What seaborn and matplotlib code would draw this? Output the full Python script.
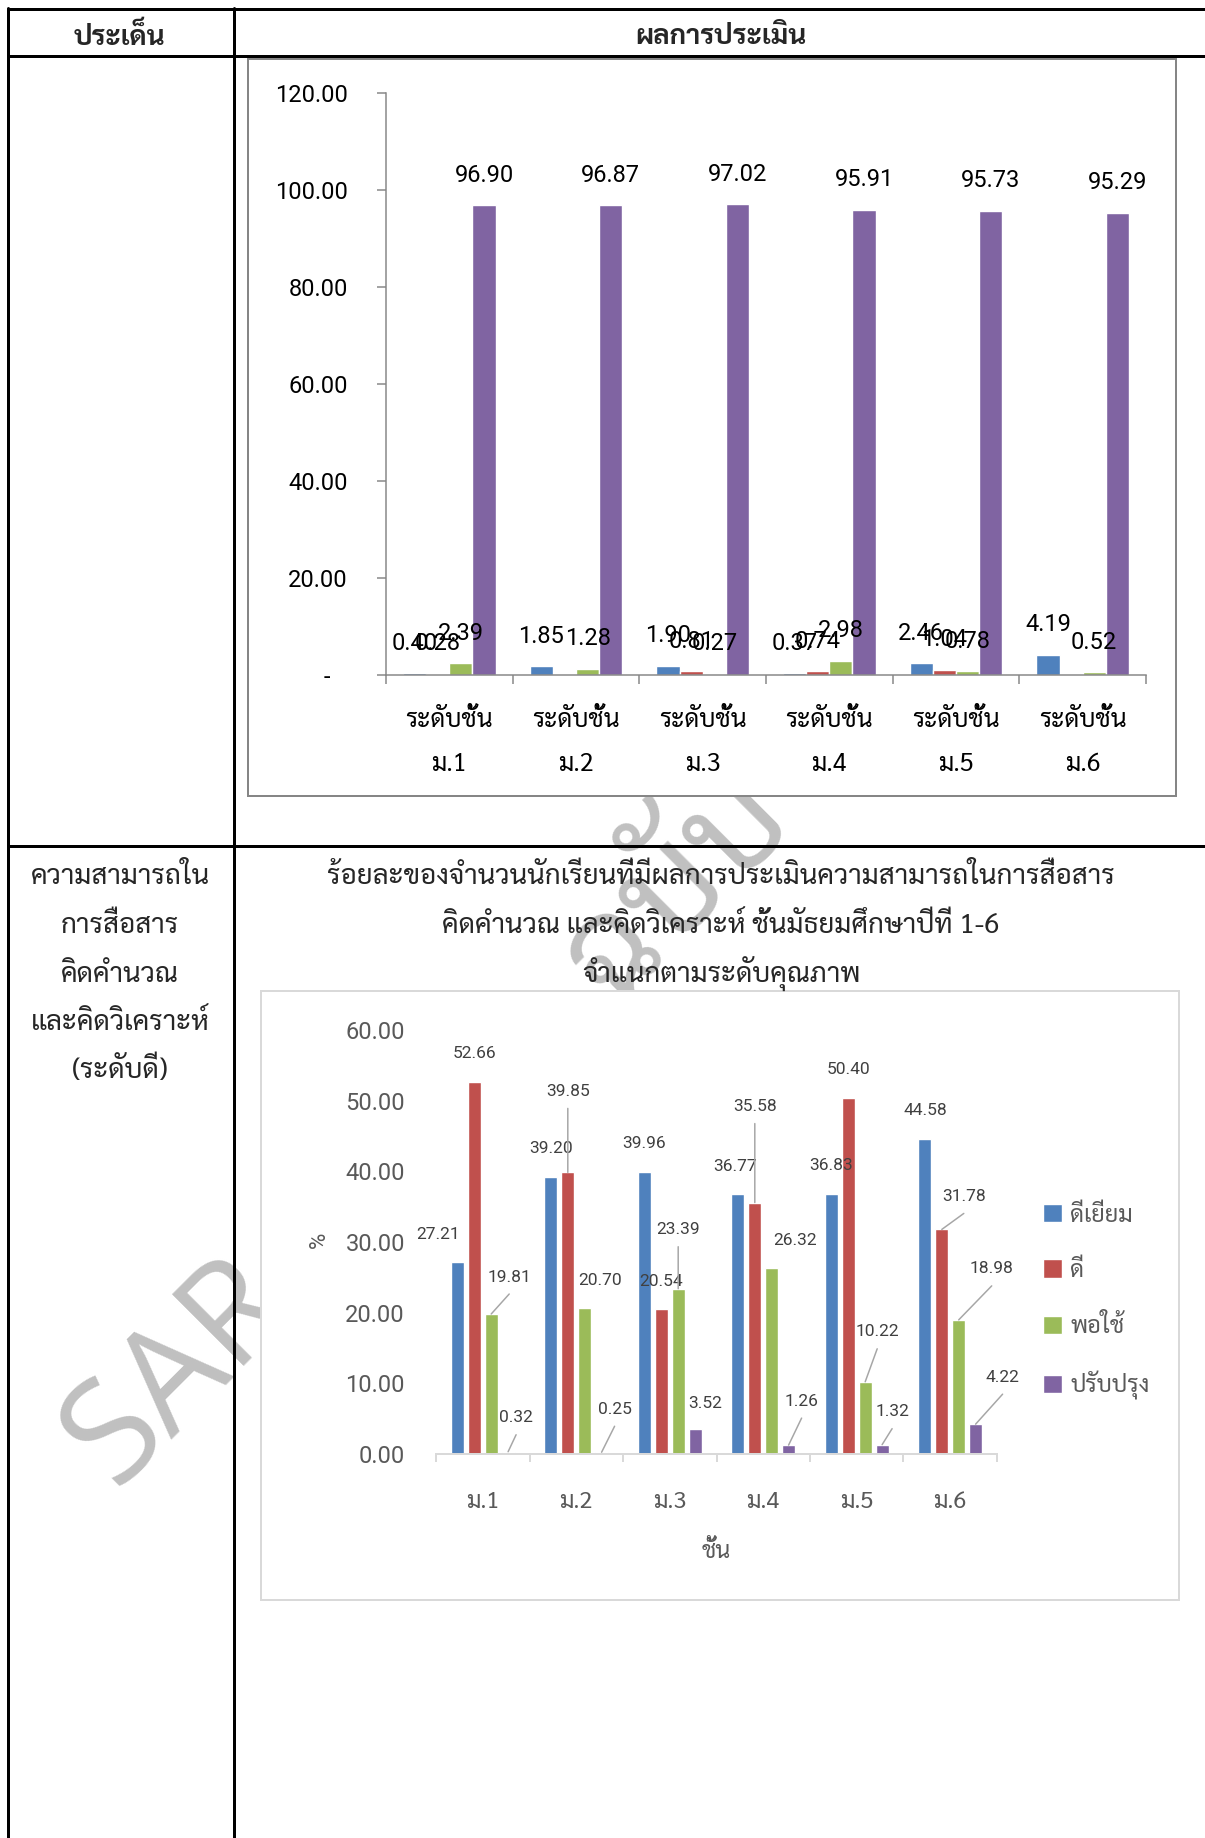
import numpy as np
import pandas as pd
import matplotlib
matplotlib.use("Agg")
import matplotlib.pyplot as plt
import seaborn as sns
from matplotlib import font_manager as fm, ft2font
from matplotlib.patches import Rectangle
from matplotlib.lines import Line2D
from matplotlib.transforms import ScaledTranslation

# ------------------------------------------------------------------ data
grades = ["ม.1", "ม.2", "ม.3", "ม.4", "ม.5", "ม.6"]
series = ["ดีเยี่ยม", "ดี", "พอใช้", "ปรับปรุง"]

# chart 1 (upper chart, no legend)
c1_blue = [0.40, 1.85, 1.90, 0.37, 2.46, 4.19]
c1_red = [0.28, np.nan, 0.81, 0.74, 1.04, np.nan]
c1_green = [2.39, 1.28, 0.27, 2.98, 0.78, 0.52]
c1_purple = [96.90, 96.87, 97.02, 95.91, 95.73, 95.29]
c1_ticks = [0, 20, 40, 60, 80, 100, 120]

# chart 2 (communication / calculation / analysis, level good)
c2_excellent = [27.21, 39.20, 39.96, 36.77, 36.83, 44.58]
c2_good = [52.66, 39.85, 20.54, 35.58, 50.40, 31.78]
c2_fair = [19.81, 20.70, 23.39, 26.32, 10.22, 18.98]
c2_improve = [0.32, 0.25, 3.52, 1.26, 1.32, 4.22]
c2_ticks = [0, 10, 20, 30, 40, 50, 60]

header_left = "ประเด็น"
header_right = "ผลการประเมิน"
row2_left = ["ความสามารถใน", "การสื่อสาร", "คิดคำนวณ", "และคิดวิเคราะห์", "(ระดับดี)"]
row2_title = ["ร้อยละของจำนวนนักเรียนที่มีผลการประเมินความสามารถในการสื่อสาร",
              "คิดคำนวณ และคิดวิเคราะห์ ชั้นมัธยมศึกษาปีที่ 1-6",
              "จำแนกตามระดับคุณภาพ"]
c1_cat_prefix = "ระดับชั้น"
c2_xlabel = "ชั้น"
c2_ylabel = "%"

colors = ["#4F81BD", "#C0504D", "#9BBB59", "#8064A2"]

# label offsets for chart 2 (pixels, relative to bar top centre) + leader flags
lab2_dx = [[-19, 0, 0, -3, 0, 0],
           [0, 0, 0, 0, 0, 22],
           [18, 15, 0, 23, 12, 33],
           [8, 13, 10, 13, 10, 27]]
lab2_dy = [[27, 28, 28, 28, 28, 28],
           [28, 81, 27, 96, 28, 33],
           [37, 27, 59, 28, 50, 51],
           [34, 43, 26, 44, 33, 47]]
lead2 = [[0, 0, 0, 0, 0, 0],
         [0, 1, 0, 1, 0, 1],
         [1, 0, 1, 0, 1, 1],
         [1, 1, 0, 1, 1, 1]]

# ------------------------------------------------------------------ fonts
def find_thai_fonts():
    known = set(f.fname for f in fm.fontManager.ttflist)
    try:
        for p in fm.findSystemFonts():
            if p not in known:
                try:
                    fm.fontManager.addfont(p)
                except Exception:
                    pass
    except Exception:
        pass
    found = []
    for f in fm.fontManager.ttflist:
        try:
            cm = ft2font.FT2Font(f.fname).get_charmap()
        except Exception:
            continue
        if 0x0E01 in cm and 0x0E21 in cm:
            if f.name not in found:
                found.append(f.name)
    prefs = ["Sarabun", "Noto Sans Thai", "Leelawadee", "Tahoma", "Loma", "Garuda",
             "Waree", "Norasi", "Kinnari", "Laksaman", "Umpush", "Sawasdee"]
    for p in prefs:
        for n in found:
            if p.lower() in n.lower():
                return n
    return found[0] if found else None

sns.set_theme(style="white")
THAI = find_thai_fonts()
FAM = ["Roboto"] + ([THAI] if THAI else []) + ["DejaVu Sans"]
TFAM = ([THAI] if THAI else []) + ["Roboto", "DejaVu Sans"]
plt.rcParams["font.family"] = FAM

W, H = 1205, 1838
PT = 72 / 100.0  # px -> pt

fig = plt.figure(figsize=(W / 100, H / 100), dpi=100)
fig.patch.set_facecolor("white")


def rect(l, t, r, b):
    return [l / W, 1 - b / H, (r - l) / W, (b - t) / H]


def fx(x):
    return x / W


def fy(y):
    return 1 - y / H

# ------------------------------------------------------------------ watermark
fig.text(fx(178), fy(1372), "SAR", rotation=45, rotation_mode="anchor",
         ha="center", va="center", fontsize=102, color="#c0c0c0",
         family=["Open Sans", "DejaVu Sans"], fontweight="normal", zorder=0.5)
fig.text(fx(680), fy(890), "ฉบับ", rotation=45, rotation_mode="anchor",
         ha="center", va="center", fontsize=100, color="#c0c0c0",
         family=TFAM, fontweight="normal", zorder=0.5)

# ------------------------------------------------------------------ table
tl = dict(color="black", lw=3 * PT, zorder=3, transform=fig.transFigure)
for y in (9, 56, 846):
    fig.add_artist(Line2D([fx(8), fx(1205)], [fy(y), fy(y)], **tl))
for x in (8, 234):
    fig.add_artist(Line2D([fx(x), fx(x)], [fy(8), fy(1838)], **tl))

fig.text(fx(120), fy(37), header_left, ha="center", va="center", fontsize=20,
         fontweight="bold", family=TFAM, zorder=4)
fig.text(fx(721), fy(37), header_right, ha="center", va="center", fontsize=20,
         fontweight="bold", family=TFAM, zorder=4)
for k, (t, y) in enumerate(zip(row2_left, [877, 926, 975, 1023, 1070])):
    fig.text(fx(120), fy(y), t, ha="center", va="center", fontsize=20,
             family=TFAM, zorder=4)
for t, y in zip(row2_title, [877, 926, 974]):
    fig.text(fx(721), fy(y), t, ha="center", va="center", fontsize=20,
             family=TFAM, zorder=4)

# chart frames
fig.add_artist(Rectangle((fx(248), fy(796)), (1176 - 248) / W, (796 - 59) / H,
                         transform=fig.transFigure, fc="white", ec="#868686",
                         lw=2 * PT, zorder=1.5))
fig.add_artist(Rectangle((fx(261), fy(1600)), (1179 - 261) / W, (1600 - 991) / H,
                         transform=fig.transFigure, fc="white", ec="#d9d9d9",
                         lw=2 * PT, zorder=1.5))

# ------------------------------------------------------------------ chart 1
df1 = pd.DataFrame({
    "grade": grades * 4,
    "series": np.repeat(series, len(grades)),
    "value": c1_blue + c1_red + c1_green + c1_purple,
})
ax1 = fig.add_axes(rect(386, 93, 1146, 675))
ax1.set_zorder(2)
ax1.patch.set_visible(False)
sns.barplot(data=df1, x="grade", y="value", hue="series", order=grades,
            hue_order=series, palette=colors, width=0.73, gap=0, saturation=1,
            errorbar=None, legend=False, ax=ax1)
ax1.set_xlim(-0.5, 5.5)
ax1.set_ylim(0, 120)
ax1.set_xlabel("")
ax1.set_ylabel("")
for s in ("top", "right"):
    ax1.spines[s].set_visible(False)
for s in ("left", "bottom"):
    ax1.spines[s].set_color("#868686")
    ax1.spines[s].set_linewidth(1.5 * PT)
ax1.set_yticks(c1_ticks)
ax1.set_yticklabels(["-" if v == 0 else f"{v:.2f}" for v in c1_ticks])
ax1.tick_params(axis="y", length=9 * PT, width=1.5 * PT, color="#868686",
                pad=21, labelsize=17, labelcolor="black", left=True)
zl = ax1.get_yticklabels()[0]
zl.set_transform(zl.get_transform() + ScaledTranslation(-18 / 100, 0, fig.dpi_scale_trans))
ax1.set_xticks(np.arange(-0.5, 6, 1))
ax1.set_xticklabels([])
ax1.set_xticks(range(6), minor=True)
ax1.set_xticklabels([c1_cat_prefix + "\n" + g for g in grades], minor=True)
ax1.tick_params(axis="x", which="major", length=9 * PT, width=1.5 * PT,
                color="#868686", bottom=True)
ax1.tick_params(axis="x", which="minor", length=0, pad=24, labelsize=18,
                labelcolor="black")
for lb in ax1.get_xticklabels(minor=True):
    lb.set_linespacing(2.0)
    lb.set_family(TFAM)
for cont in ax1.containers:
    for p in cont.patches:
        h = p.get_height()
        if not np.isfinite(h):
            continue
        ax1.annotate(f"{h:.2f}", (p.get_x() + p.get_width() / 2, h),
                     xytext=(0, 30 * PT), textcoords="offset points",
                     ha="center", va="center", fontsize=17, color="black")

# ------------------------------------------------------------------ chart 2
df2 = pd.DataFrame({
    "grade": grades * 4,
    "series": np.repeat(series, len(grades)),
    "value": c2_excellent + c2_good + c2_fair + c2_improve,
})
ax2 = fig.add_axes(rect(436, 1030, 997, 1454))
ax2.set_zorder(2)
ax2.patch.set_visible(False)
sns.barplot(data=df2, x="grade", y="value", hue="series", order=grades,
            hue_order=series, palette=colors, width=0.723, gap=0.235,
            saturation=1, errorbar=None, legend=False, ax=ax2)
ax2.set_xlim(-0.5, 5.5)
ax2.set_ylim(0, 60)
for s in ("top", "right", "left"):
    ax2.spines[s].set_visible(False)
ax2.spines["bottom"].set_color("#d9d9d9")
ax2.spines["bottom"].set_linewidth(2 * PT)
ax2.set_yticks(c2_ticks)
ax2.set_yticklabels([f"{v:.2f}" for v in c2_ticks])
ax2.tick_params(axis="y", length=0, pad=31 * PT, labelsize=17, labelcolor="#595959")
ax2.set_xticks(np.arange(-0.5, 6, 1))
ax2.set_xticklabels([])
ax2.set_xticks(range(6), minor=True)
ax2.set_xticklabels(grades, minor=True)
ax2.tick_params(axis="x", which="major", length=8 * PT, width=2 * PT,
                color="#d9d9d9", bottom=True)
ax2.tick_params(axis="x", which="minor", length=0, pad=26.5, labelsize=17,
                labelcolor="#595959")
for lb in ax2.get_xticklabels(minor=True):
    lb.set_family(TFAM)
ax2.set_xlabel(c2_xlabel, fontsize=17, color="#595959", family=TFAM)
ax2.xaxis.set_label_coords(0.5, (1454 - 1551) / 424)
ax2.xaxis.label.set_va("center")
ax2.set_ylabel(c2_ylabel, fontsize=16, color="#595959")
ax2.yaxis.set_label_coords((319 - 436) / 561, (1454 - 1240) / 424)
ax2.yaxis.label.set_va("center")

for i, cont in enumerate(ax2.containers):
    for j, p in enumerate(cont.patches):
        h = p.get_height()
        x = p.get_x() + p.get_width() / 2
        dx, dy = lab2_dx[i][j] * PT, lab2_dy[i][j] * PT
        ax2.annotate(f"{h:.2f}", (x, h), xytext=(dx, dy), textcoords="offset points",
                     ha="center", va="center", fontsize=12.5, color="#404040")
        if lead2[i][j]:
            ax2.annotate("", (x, h), xytext=(dx, dy - 17 * PT), textcoords="offset points",
                         arrowprops=dict(arrowstyle="-", color="#a6a6a6", lw=1.5 * PT,
                                         shrinkA=0, shrinkB=0))

leg = ax2.legend(ax2.containers, series, loc="center left",
                 bbox_to_anchor=(fx(1043), fy(1302)), bbox_transform=fig.transFigure,
                 frameon=False, labelcolor="#595959",
                 handlelength=0.8, handleheight=0.8, handletextpad=0.35,
                 labelspacing=1.38, borderpad=0, borderaxespad=0,
                 prop={"family": TFAM, "size": 17})

fig.savefig("out.png", dpi=100, facecolor="white")
